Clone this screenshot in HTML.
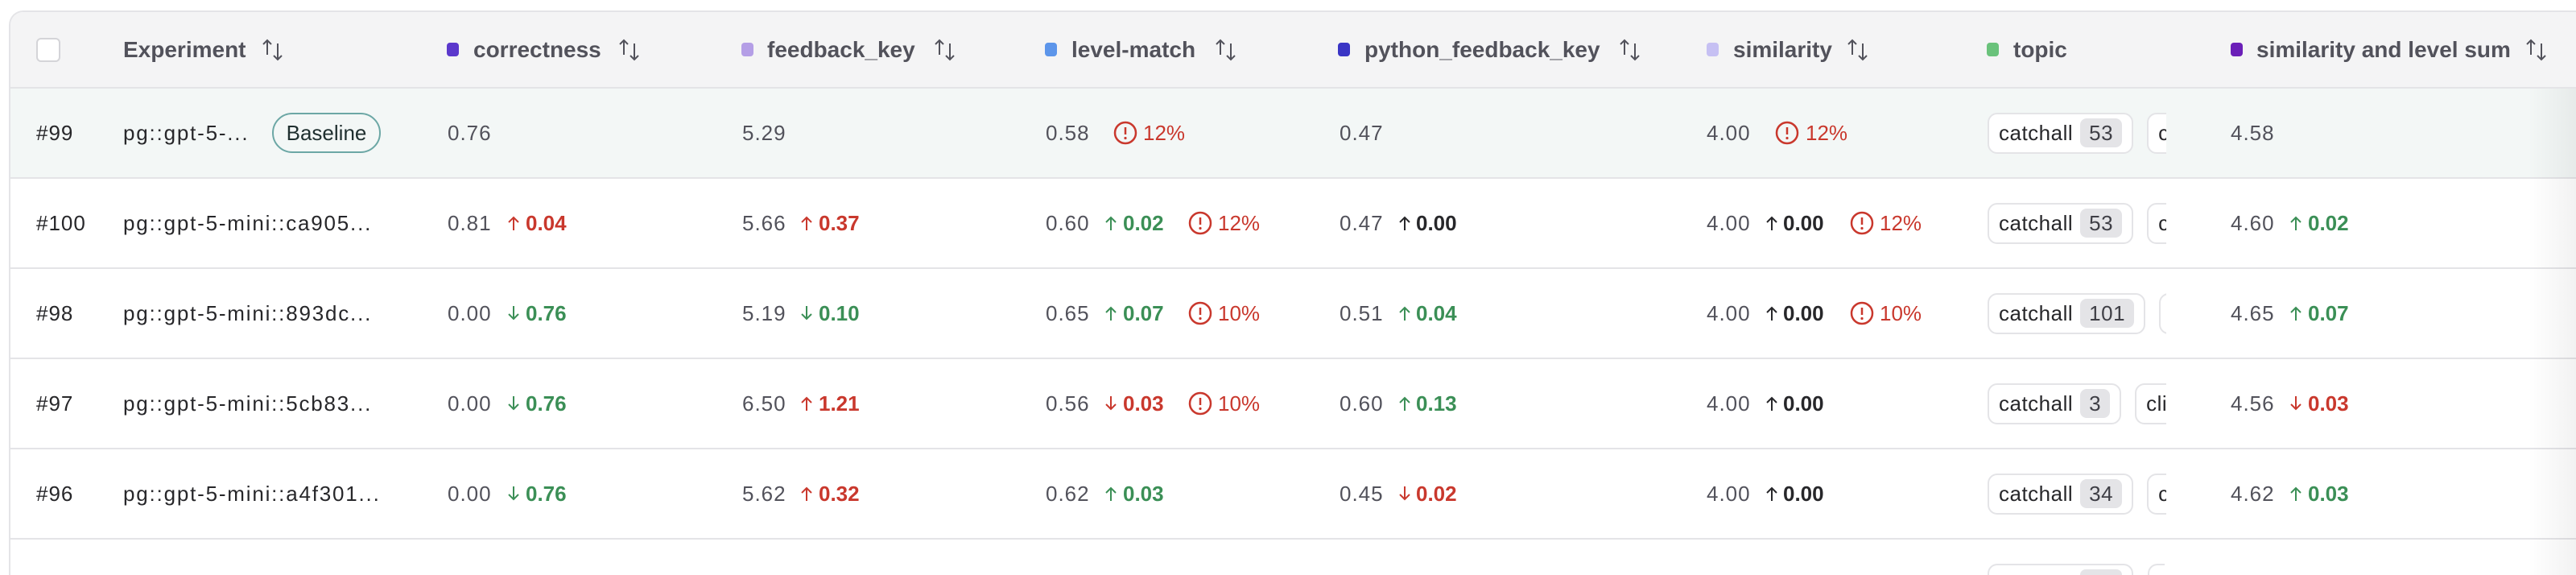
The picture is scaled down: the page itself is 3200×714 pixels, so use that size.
<!DOCTYPE html>
<html><head><meta charset="utf-8">
<style>
html,body{margin:0;padding:0;background:#fff;width:3200px;height:714px;overflow:hidden;}
body{position:relative;font-family:"Liberation Sans",Arial,sans-serif;}
.card{position:absolute;left:11px;top:13px;width:3187px;height:699px;border:2px solid #e4e4e7;border-bottom:0;border-right:0;border-radius:18px 0 0 0;overflow:hidden;background:#fff;}
.hdr{position:absolute;left:0;top:0;width:100%;height:93px;background:#f4f4f5;border-bottom:2px solid #e4e4e7;}
.row{position:absolute;left:0;width:100%;height:110px;border-bottom:2px solid #e4e4e7;background:#fff;}
.row.base{background:#f3f7f6;}
.row.last{height:44px;border-bottom:0;overflow:hidden;}
.c{position:absolute;top:0;bottom:0;display:flex;align-items:center;white-space:nowrap;}
.h{font-size:28px;font-weight:700;color:#52525b;}
.dot{width:15px;height:17px;border-radius:4px;}
.cb{width:26px;height:26px;border:2px solid #d4d4d8;border-radius:6px;background:#fff;}
.id{font-size:26px;color:#27272a;letter-spacing:1px;}
.nm{font-size:26px;color:#27272a;letter-spacing:1.8px;}
.v{font-size:26px;color:#52525b;letter-spacing:1px;}
.d{font-size:26px;font-weight:700;}
.r{color:#c9382d;}
.g{color:#3b8f56;}
.k{color:#27272a;}
.pct{font-size:26px;color:#c9382d;}
.bl{height:46px;width:131px;border:2px solid #6ca7a5;border-radius:25px;display:flex;align-items:center;justify-content:center;font-size:26px;color:#1f2f2f;}
.tp{position:absolute;top:0;bottom:0;width:222px;overflow:hidden;display:flex;align-items:center;}
.pill{flex:none;height:47px;border:2px solid #e4e4e7;border-radius:12px;display:flex;align-items:center;padding:0 12px;font-size:26px;color:#27272a;letter-spacing:0.5px;background:#fff;margin-right:17px;}
.bd{margin-left:9px;height:36px;background:#e4e4e7;border-radius:8px;display:flex;align-items:center;padding:0 11px;color:#3f3f46;}
.pp{position:absolute;top:30px;height:12px;border:2px solid #e4e4e7;border-bottom:0;border-radius:12px 12px 0 0;background:#fff;}
.pb{position:absolute;top:5px;height:7px;background:#e4e4e7;border-radius:8px 8px 0 0;}
.shade{position:absolute;left:3140px;top:110px;width:60px;height:604px;background:linear-gradient(to right,rgba(0,0,0,0),rgba(0,0,0,0.05));}
</style></head><body>
<div class="card">
  <div class="hdr">
    <div class="c" style="left:32px"><div class="cb"></div></div>
    <div class="c h" style="left:140px">Experiment</div>
    <div class="c" style="left:312px"><svg width="28" height="28" viewBox="0 0 28 28" fill="none" stroke="#52525b" stroke-width="2"><path d="M7 20V2M2 7l5-5 5 5"/><path d="M20 6v20M15 21l5 5 5-5"/></svg></div>

    <div class="c" style="left:542px"><div class="dot" style="background:#5b38cc"></div></div>
    <div class="c h" style="left:575px">correctness</div>
    <div class="c" style="left:755px"><svg width="28" height="28" viewBox="0 0 28 28" fill="none" stroke="#52525b" stroke-width="2"><path d="M7 20V2M2 7l5-5 5 5"/><path d="M20 6v20M15 21l5 5 5-5"/></svg></div>

    <div class="c" style="left:908px"><div class="dot" style="background:#b49ee6"></div></div>
    <div class="c h" style="left:940px">feedback_key</div>
    <div class="c" style="left:1147px"><svg width="28" height="28" viewBox="0 0 28 28" fill="none" stroke="#52525b" stroke-width="2"><path d="M7 20V2M2 7l5-5 5 5"/><path d="M20 6v20M15 21l5 5 5-5"/></svg></div>

    <div class="c" style="left:1285px"><div class="dot" style="background:#5c95ea"></div></div>
    <div class="c h" style="left:1318px">level-match</div>
    <div class="c" style="left:1496px"><svg width="28" height="28" viewBox="0 0 28 28" fill="none" stroke="#52525b" stroke-width="2"><path d="M7 20V2M2 7l5-5 5 5"/><path d="M20 6v20M15 21l5 5 5-5"/></svg></div>

    <div class="c" style="left:1649px"><div class="dot" style="background:#3a35c5"></div></div>
    <div class="c h" style="left:1682px">python_feedback_key</div>
    <div class="c" style="left:1998px"><svg width="28" height="28" viewBox="0 0 28 28" fill="none" stroke="#52525b" stroke-width="2"><path d="M7 20V2M2 7l5-5 5 5"/><path d="M20 6v20M15 21l5 5 5-5"/></svg></div>

    <div class="c" style="left:2107px"><div class="dot" style="background:#c6c0f3"></div></div>
    <div class="c h" style="left:2140px">similarity</div>
    <div class="c" style="left:2281px"><svg width="28" height="28" viewBox="0 0 28 28" fill="none" stroke="#52525b" stroke-width="2"><path d="M7 20V2M2 7l5-5 5 5"/><path d="M20 6v20M15 21l5 5 5-5"/></svg></div>

    <div class="c" style="left:2455px"><div class="dot" style="background:#6ac27b"></div></div>
    <div class="c h" style="left:2488px">topic</div>

    <div class="c" style="left:2758px"><div class="dot" style="background:#6b1fb8"></div></div>
    <div class="c h" style="left:2790px">similarity and level sum</div>
    <div class="c" style="left:3124px"><svg width="28" height="28" viewBox="0 0 28 28" fill="none" stroke="#52525b" stroke-width="2"><path d="M7 20V2M2 7l5-5 5 5"/><path d="M20 6v20M15 21l5 5 5-5"/></svg></div>
  </div>

  <!-- Row #99 -->
  <div class="row base" style="top:95px">
    <div class="c id" style="left:32px">#99</div>
    <div class="c nm" style="left:140px">pg::gpt-5-...</div>
    <div class="c" style="left:325px"><div class="bl">Baseline</div></div>
    <div class="c v" style="left:543px">0.76</div>
    <div class="c v" style="left:909px">5.29</div>
    <div class="c v" style="left:1286px">0.58</div>
    <div class="c" style="left:1370px"><svg width="30" height="30" viewBox="0 0 30 30"><circle cx="15" cy="15" r="13" fill="none" stroke="#c9382d" stroke-width="2.5"/><path d="M15 8v9" stroke="#c9382d" stroke-width="2.5"/><circle cx="15" cy="21.5" r="1.6" fill="#c9382d"/></svg></div>
    <div class="c pct" style="left:1407px">12%</div>
    <div class="c v" style="left:1651px">0.47</div>
    <div class="c v" style="left:2107px">4.00</div>
    <div class="c" style="left:2192px"><svg width="30" height="30" viewBox="0 0 30 30"><circle cx="15" cy="15" r="13" fill="none" stroke="#c9382d" stroke-width="2.5"/><path d="M15 8v9" stroke="#c9382d" stroke-width="2.5"/><circle cx="15" cy="21.5" r="1.6" fill="#c9382d"/></svg></div>
    <div class="c pct" style="left:2230px">12%</div>
    <div class="tp" style="left:2456px"><div class="pill">catchall<span class="bd">53</span></div><div class="pill">clinical<span class="bd">12</span></div></div>
    <div class="c v" style="left:2758px">4.58</div>
  </div>

  <!-- Row #100 -->
  <div class="row" style="top:207px">
    <div class="c id" style="left:32px">#100</div>
    <div class="c nm" style="left:140px">pg::gpt-5-mini::ca905...</div>
    <div class="c v" style="left:543px">0.81</div>
    <div class="c r" style="left:618px"><svg width="14" height="18" viewBox="0 0 14 18" fill="none" stroke="currentColor" stroke-width="2"><path d="M7 18V2M1 8l6-6 6 6"/></svg></div>
    <div class="c d r" style="left:640px">0.04</div>
    <div class="c v" style="left:909px">5.66</div>
    <div class="c r" style="left:982px"><svg width="14" height="18" viewBox="0 0 14 18" fill="none" stroke="currentColor" stroke-width="2"><path d="M7 18V2M1 8l6-6 6 6"/></svg></div>
    <div class="c d r" style="left:1004px">0.37</div>
    <div class="c v" style="left:1286px">0.60</div>
    <div class="c g" style="left:1360px"><svg width="14" height="18" viewBox="0 0 14 18" fill="none" stroke="currentColor" stroke-width="2"><path d="M7 18V2M1 8l6-6 6 6"/></svg></div>
    <div class="c d g" style="left:1382px">0.02</div>
    <div class="c" style="left:1463px"><svg width="30" height="30" viewBox="0 0 30 30"><circle cx="15" cy="15" r="13" fill="none" stroke="#c9382d" stroke-width="2.5"/><path d="M15 8v9" stroke="#c9382d" stroke-width="2.5"/><circle cx="15" cy="21.5" r="1.6" fill="#c9382d"/></svg></div>
    <div class="c pct" style="left:1500px">12%</div>
    <div class="c v" style="left:1651px">0.47</div>
    <div class="c k" style="left:1725px"><svg width="14" height="18" viewBox="0 0 14 18" fill="none" stroke="currentColor" stroke-width="2"><path d="M7 18V2M1 8l6-6 6 6"/></svg></div>
    <div class="c d k" style="left:1746px">0.00</div>
    <div class="c v" style="left:2107px">4.00</div>
    <div class="c k" style="left:2181px"><svg width="14" height="18" viewBox="0 0 14 18" fill="none" stroke="currentColor" stroke-width="2"><path d="M7 18V2M1 8l6-6 6 6"/></svg></div>
    <div class="c d k" style="left:2202px">0.00</div>
    <div class="c" style="left:2285px"><svg width="30" height="30" viewBox="0 0 30 30"><circle cx="15" cy="15" r="13" fill="none" stroke="#c9382d" stroke-width="2.5"/><path d="M15 8v9" stroke="#c9382d" stroke-width="2.5"/><circle cx="15" cy="21.5" r="1.6" fill="#c9382d"/></svg></div>
    <div class="c pct" style="left:2322px">12%</div>
    <div class="tp" style="left:2456px"><div class="pill">catchall<span class="bd">53</span></div><div class="pill">clinical<span class="bd">12</span></div></div>
    <div class="c v" style="left:2758px">4.60</div>
    <div class="c g" style="left:2832px"><svg width="14" height="18" viewBox="0 0 14 18" fill="none" stroke="currentColor" stroke-width="2"><path d="M7 18V2M1 8l6-6 6 6"/></svg></div>
    <div class="c d g" style="left:2854px">0.02</div>
  </div>

  <!-- Row #98 -->
  <div class="row" style="top:319px">
    <div class="c id" style="left:32px">#98</div>
    <div class="c nm" style="left:140px">pg::gpt-5-mini::893dc...</div>
    <div class="c v" style="left:543px">0.00</div>
    <div class="c g" style="left:618px"><svg width="14" height="18" viewBox="0 0 14 18" fill="none" stroke="currentColor" stroke-width="2"><path d="M7 0v16M1 10l6 6 6-6"/></svg></div>
    <div class="c d g" style="left:640px">0.76</div>
    <div class="c v" style="left:909px">5.19</div>
    <div class="c g" style="left:982px"><svg width="14" height="18" viewBox="0 0 14 18" fill="none" stroke="currentColor" stroke-width="2"><path d="M7 0v16M1 10l6 6 6-6"/></svg></div>
    <div class="c d g" style="left:1004px">0.10</div>
    <div class="c v" style="left:1286px">0.65</div>
    <div class="c g" style="left:1360px"><svg width="14" height="18" viewBox="0 0 14 18" fill="none" stroke="currentColor" stroke-width="2"><path d="M7 18V2M1 8l6-6 6 6"/></svg></div>
    <div class="c d g" style="left:1382px">0.07</div>
    <div class="c" style="left:1463px"><svg width="30" height="30" viewBox="0 0 30 30"><circle cx="15" cy="15" r="13" fill="none" stroke="#c9382d" stroke-width="2.5"/><path d="M15 8v9" stroke="#c9382d" stroke-width="2.5"/><circle cx="15" cy="21.5" r="1.6" fill="#c9382d"/></svg></div>
    <div class="c pct" style="left:1500px">10%</div>
    <div class="c v" style="left:1651px">0.51</div>
    <div class="c g" style="left:1725px"><svg width="14" height="18" viewBox="0 0 14 18" fill="none" stroke="currentColor" stroke-width="2"><path d="M7 18V2M1 8l6-6 6 6"/></svg></div>
    <div class="c d g" style="left:1746px">0.04</div>
    <div class="c v" style="left:2107px">4.00</div>
    <div class="c k" style="left:2181px"><svg width="14" height="18" viewBox="0 0 14 18" fill="none" stroke="currentColor" stroke-width="2"><path d="M7 18V2M1 8l6-6 6 6"/></svg></div>
    <div class="c d k" style="left:2202px">0.00</div>
    <div class="c" style="left:2285px"><svg width="30" height="30" viewBox="0 0 30 30"><circle cx="15" cy="15" r="13" fill="none" stroke="#c9382d" stroke-width="2.5"/><path d="M15 8v9" stroke="#c9382d" stroke-width="2.5"/><circle cx="15" cy="21.5" r="1.6" fill="#c9382d"/></svg></div>
    <div class="c pct" style="left:2322px">10%</div>
    <div class="tp" style="left:2456px"><div class="pill">catchall<span class="bd">101</span></div><div class="pill">clinical<span class="bd">12</span></div></div>
    <div class="c v" style="left:2758px">4.65</div>
    <div class="c g" style="left:2832px"><svg width="14" height="18" viewBox="0 0 14 18" fill="none" stroke="currentColor" stroke-width="2"><path d="M7 18V2M1 8l6-6 6 6"/></svg></div>
    <div class="c d g" style="left:2854px">0.07</div>
  </div>

  <!-- Row #97 -->
  <div class="row" style="top:431px">
    <div class="c id" style="left:32px">#97</div>
    <div class="c nm" style="left:140px">pg::gpt-5-mini::5cb83...</div>
    <div class="c v" style="left:543px">0.00</div>
    <div class="c g" style="left:618px"><svg width="14" height="18" viewBox="0 0 14 18" fill="none" stroke="currentColor" stroke-width="2"><path d="M7 0v16M1 10l6 6 6-6"/></svg></div>
    <div class="c d g" style="left:640px">0.76</div>
    <div class="c v" style="left:909px">6.50</div>
    <div class="c r" style="left:982px"><svg width="14" height="18" viewBox="0 0 14 18" fill="none" stroke="currentColor" stroke-width="2"><path d="M7 18V2M1 8l6-6 6 6"/></svg></div>
    <div class="c d r" style="left:1004px">1.21</div>
    <div class="c v" style="left:1286px">0.56</div>
    <div class="c r" style="left:1360px"><svg width="14" height="18" viewBox="0 0 14 18" fill="none" stroke="currentColor" stroke-width="2"><path d="M7 0v16M1 10l6 6 6-6"/></svg></div>
    <div class="c d r" style="left:1382px">0.03</div>
    <div class="c" style="left:1463px"><svg width="30" height="30" viewBox="0 0 30 30"><circle cx="15" cy="15" r="13" fill="none" stroke="#c9382d" stroke-width="2.5"/><path d="M15 8v9" stroke="#c9382d" stroke-width="2.5"/><circle cx="15" cy="21.5" r="1.6" fill="#c9382d"/></svg></div>
    <div class="c pct" style="left:1500px">10%</div>
    <div class="c v" style="left:1651px">0.60</div>
    <div class="c g" style="left:1725px"><svg width="14" height="18" viewBox="0 0 14 18" fill="none" stroke="currentColor" stroke-width="2"><path d="M7 18V2M1 8l6-6 6 6"/></svg></div>
    <div class="c d g" style="left:1746px">0.13</div>
    <div class="c v" style="left:2107px">4.00</div>
    <div class="c k" style="left:2181px"><svg width="14" height="18" viewBox="0 0 14 18" fill="none" stroke="currentColor" stroke-width="2"><path d="M7 18V2M1 8l6-6 6 6"/></svg></div>
    <div class="c d k" style="left:2202px">0.00</div>
    <div class="tp" style="left:2456px"><div class="pill">catchall<span class="bd">3</span></div><div class="pill">clinical<span class="bd">12</span></div></div>
    <div class="c v" style="left:2758px">4.56</div>
    <div class="c r" style="left:2832px"><svg width="14" height="18" viewBox="0 0 14 18" fill="none" stroke="currentColor" stroke-width="2"><path d="M7 0v16M1 10l6 6 6-6"/></svg></div>
    <div class="c d r" style="left:2854px">0.03</div>
  </div>

  <!-- Row #96 -->
  <div class="row" style="top:543px">
    <div class="c id" style="left:32px">#96</div>
    <div class="c nm" style="left:140px">pg::gpt-5-mini::a4f301...</div>
    <div class="c v" style="left:543px">0.00</div>
    <div class="c g" style="left:618px"><svg width="14" height="18" viewBox="0 0 14 18" fill="none" stroke="currentColor" stroke-width="2"><path d="M7 0v16M1 10l6 6 6-6"/></svg></div>
    <div class="c d g" style="left:640px">0.76</div>
    <div class="c v" style="left:909px">5.62</div>
    <div class="c r" style="left:982px"><svg width="14" height="18" viewBox="0 0 14 18" fill="none" stroke="currentColor" stroke-width="2"><path d="M7 18V2M1 8l6-6 6 6"/></svg></div>
    <div class="c d r" style="left:1004px">0.32</div>
    <div class="c v" style="left:1286px">0.62</div>
    <div class="c g" style="left:1360px"><svg width="14" height="18" viewBox="0 0 14 18" fill="none" stroke="currentColor" stroke-width="2"><path d="M7 18V2M1 8l6-6 6 6"/></svg></div>
    <div class="c d g" style="left:1382px">0.03</div>
    <div class="c v" style="left:1651px">0.45</div>
    <div class="c r" style="left:1725px"><svg width="14" height="18" viewBox="0 0 14 18" fill="none" stroke="currentColor" stroke-width="2"><path d="M7 0v16M1 10l6 6 6-6"/></svg></div>
    <div class="c d r" style="left:1746px">0.02</div>
    <div class="c v" style="left:2107px">4.00</div>
    <div class="c k" style="left:2181px"><svg width="14" height="18" viewBox="0 0 14 18" fill="none" stroke="currentColor" stroke-width="2"><path d="M7 18V2M1 8l6-6 6 6"/></svg></div>
    <div class="c d k" style="left:2202px">0.00</div>
    <div class="tp" style="left:2456px"><div class="pill">catchall<span class="bd">34</span></div><div class="pill">clinical<span class="bd">12</span></div></div>
    <div class="c v" style="left:2758px">4.62</div>
    <div class="c g" style="left:2832px"><svg width="14" height="18" viewBox="0 0 14 18" fill="none" stroke="currentColor" stroke-width="2"><path d="M7 18V2M1 8l6-6 6 6"/></svg></div>
    <div class="c d g" style="left:2854px">0.03</div>
  </div>

  <!-- Partial row (only pill tops visible) -->
  <div class="row last" style="top:655px">
    <div class="pp" style="left:2456px;width:177px"><div class="pb" style="left:113px;width:52px"></div></div>
    <div class="pp" style="left:2655px;width:19px;border-right:0;border-radius:12px 0 0 0"></div>
  </div>
</div>
<div class="shade"></div>
</body></html>
